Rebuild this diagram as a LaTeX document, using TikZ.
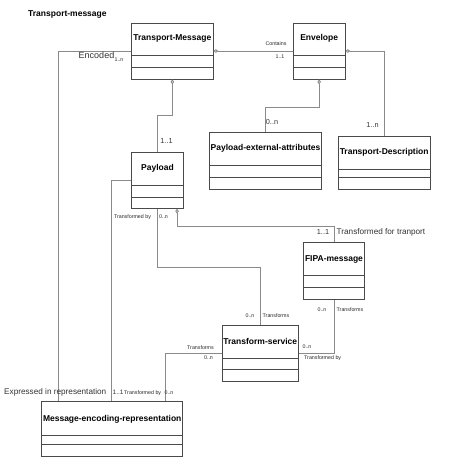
\documentclass[tikz,border=0pt]{standalone}
\usepackage{fontspec}
\setmainfont{Liberation Sans}
\usetikzlibrary{fit,arrows.meta,calc}
\definecolor{lineg}{HTML}{8A8A8A}
\definecolor{boxg}{HTML}{4A4A4A}
\tikzset{
  clsbox/.style={draw=boxg, line width=0.7pt, inner sep=0pt, rectangle},
  clsline/.style={draw=boxg, line width=0.7pt},
  clstitle/.style={inner sep=0pt, font=\bfseries\fontsize{8.5}{10}\selectfont},
  conn/.style={draw=lineg, line width=0.9pt},
  agg/.style={{Diamond[open,length=5pt,width=3.6pt]}-},
  small/.style={inner sep=0pt, font=\fontsize{5.3}{6}\selectfont, text=black!85},
  mid/.style={inner sep=0pt, font=\fontsize{7.3}{8}\selectfont, text=black!80},
  big/.style={inner sep=0pt, font=\fontsize{8.2}{9}\selectfont, text=black!80},
}
\newcommand\umlclass[9]{%
  \node[clsbox, fit={(#2,#3) (#4,#5)}] (#1) {};
  \draw[clsline] (#2,#6) -- (#4,#6) (#2,#7) -- (#4,#7);
  \node[clstitle] (#1-t) at ({(#2+#4)/2},#8) {#9};
}
\begin{document}
\begin{tikzpicture}[x=1pt,y=-1pt]
\useasboundingbox (0,0) rectangle (454,457);
\node[clstitle, anchor=west] (title) at (28,14.5) {Transport-message};

\umlclass{tm}{131.7}{23}{213}{79}{55.7}{67.3}{38.5}{Transport-Message}
\umlclass{env}{293.3}{23}{345}{79}{55.7}{67.3}{38.5}{Envelope}
\umlclass{pea}{209.3}{132.7}{321.7}{189.3}{165.3}{177.3}{148.5}{Payload-external-attributes}
\umlclass{td}{338.3}{136.7}{430}{189.3}{169.3}{177.3}{152.5}{Transport-Description}
\umlclass{pl}{131.7}{152.3}{183.3}{208.3}{185.3}{197.7}{168.7}{Payload}
\umlclass{fipa}{303.3}{242.7}{364.7}{299.3}{275.3}{287.3}{259}{FIPA-message}
\umlclass{ts}{222.3}{325}{298.3}{381.7}{358}{369.7}{341}{Transform-service}
\umlclass{mer}{41.7}{401.7}{182.7}{456}{435}{444}{419}{Message-encoding-representation}

% connectors
\draw[conn,agg] (tm.east) -- (env.west);
\draw[conn,agg] (env.east) -| (td.north);
\draw[conn,agg] (env.south) -- ++(0,27.7) -| (pea.north);
\draw[conn,agg] (tm.south) -- ++(0,36) -| (pl.north);
\draw[conn] (tm.west) -| ($(mer.north west)+(17.3,0)$);
\draw[conn] (pl.west) -| ($(mer.north west)+(69.6,0)$);
\draw[conn] (pl.south) -- ++(0,58.4) -| (ts.north);
\draw[conn,agg] ($(pl.south east)+(-6.6,0)$) -- ++(0,17.4) -| (fipa.north);
\draw[conn] (fipa.south) |- (ts.east);
\draw[conn] (ts.west) -| ($(mer.north west)+(124,0)$);

% labels
\node[small] (l1) at (276,44) {Contains};
\node[small] (l2) at (280,57) {1..1};
\node[inner sep=0pt, font=\fontsize{9}{10}\selectfont, text=black!80] (l3) at (96.5,55) {Encoded};
\node[small] (l4) at (119,59.5) {1..n};
\node[mid] (l5) at (272,122) {0..n};
\node[mid] (l6) at (372.5,125) {1..n};
\node[mid] (l7) at (166.5,141) {1..1};
\node[small] (l8) at (132.5,217) {Transformed by};
\node[small] (l9) at (163.5,217) {0..n};
\node[mid] (l10) at (323,232) {1..1};
\node[big, anchor=west] (l11) at (336.5,232) {Transformed for tranport};
\node[small] (l12) at (250,316) {0..n};
\node[small] (l13) at (276,316) {Transforms};
\node[small] (l14) at (322,309.5) {0..n};
\node[small, anchor=west] (l15) at (336.5,309.5) {Transforms};
\node[small] (l16) at (307,346.5) {0..n};
\node[small, anchor=west] (l17) at (304,358.5) {Transformed by};
\node[small] (l18) at (200.5,347.5) {Transforms};
\node[small] (l19) at (208.5,358) {0..n};
\node[big, anchor=west] (l20) at (4,392.5) {Expressed in representation};
\node[inner sep=0pt, font=\fontsize{6.5}{7}\selectfont, text=black!80, anchor=west] (l21) at (112.5,392.5) {1..1};
\node[small, anchor=west] (l22) at (124,393) {Transformed by};
\node[small] (l23) at (169,393) {0..n};
\end{tikzpicture}
\end{document}
